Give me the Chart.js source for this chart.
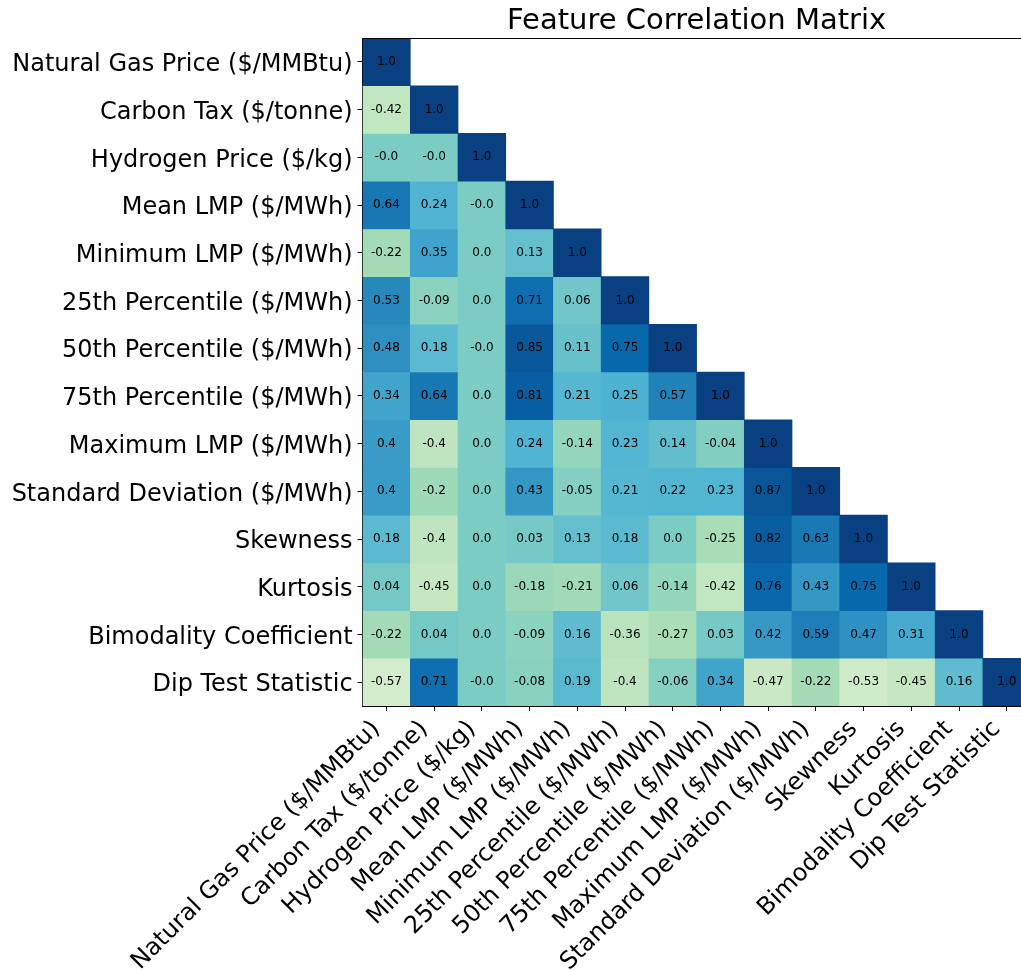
<!DOCTYPE html>
<html><head><meta charset="utf-8">
<script src="https://cdn.jsdelivr.net/npm/chart.js@4.4.1/dist/chart.umd.min.js"></script>
<style>
html,body{margin:0;padding:0;overflow:hidden;background:#fff;width:1021px;height:970px}
#wrap{position:absolute;left:0;top:0;width:1040px;height:970px}
canvas{display:block}
</style>
</head><body><div id="wrap"><canvas id="c" width="1040" height="970"></canvas></div>
<script>
const features = [
  'Natural Gas Price ($/MMBtu)', 'Carbon Tax ($/tonne)', 'Hydrogen Price ($/kg)',
  'Mean LMP ($/MWh)', 'Minimum LMP ($/MWh)', '25th Percentile ($/MWh)',
  '50th Percentile ($/MWh)', '75th Percentile ($/MWh)', 'Maximum LMP ($/MWh)',
  'Standard Deviation ($/MWh)', 'Skewness', 'Kurtosis', 'Bimodality Coefficient',
  'Dip Test Statistic'
];
const rowNaturalGas = [1.0];
const rowCarbonTax = [-0.42, 1.0];
const rowHydrogen = [-0.0, -0.0, 1.0];
const rowMeanLMP = [0.64, 0.24, -0.0, 1.0];
const rowMinLMP = [-0.22, 0.35, 0.0, 0.13, 1.0];
const rowP25 = [0.53, -0.09, 0.0, 0.71, 0.06, 1.0];
const rowP50 = [0.48, 0.18, -0.0, 0.85, 0.11, 0.75, 1.0];
const rowP75 = [0.34, 0.64, 0.0, 0.81, 0.21, 0.25, 0.57, 1.0];
const rowMaxLMP = [0.4, -0.4, 0.0, 0.24, -0.14, 0.23, 0.14, -0.04, 1.0];
const rowStdDev = [0.4, -0.2, 0.0, 0.43, -0.05, 0.21, 0.22, 0.23, 0.87, 1.0];
const rowSkewness = [0.18, -0.4, 0.0, 0.03, 0.13, 0.18, 0.0, -0.25, 0.82, 0.63, 1.0];
const rowKurtosis = [0.04, -0.45, 0.0, -0.18, -0.21, 0.06, -0.14, -0.42, 0.76, 0.43, 0.75, 1.0];
const rowBimodality = [-0.22, 0.04, 0.0, -0.09, 0.16, -0.36, -0.27, 0.03, 0.42, 0.59, 0.47, 0.31, 1.0];
const rowDipTest = [-0.57, 0.71, -0.0, -0.08, 0.19, -0.4, -0.06, 0.34, -0.47, -0.22, -0.53, -0.45, 0.16, 1.0];

const matrixRows = [rowNaturalGas, rowCarbonTax, rowHydrogen, rowMeanLMP, rowMinLMP, rowP25, rowP50,
  rowP75, rowMaxLMP, rowStdDev, rowSkewness, rowKurtosis, rowBimodality, rowDipTest];

const colorMin = -1, colorMax = 1;
const gnbuStops = [[247,252,240],[224,243,219],[204,235,197],[168,221,181],[123,204,196],
  [78,179,211],[43,140,190],[8,104,172],[8,64,129]];
function gnbu(v) {
  let t = (v - colorMin) / (colorMax - colorMin);
  t = Math.max(0, Math.min(1, t));
  const pos = t * (gnbuStops.length - 1);
  const k = Math.min(Math.floor(pos), gnbuStops.length - 2);
  const f = pos - k;
  const a = gnbuStops[k], b = gnbuStops[k + 1];
  const c = a.map((x, i) => Math.round(x + (b[i] - x) * f));
  return `rgb(${c[0]},${c[1]},${c[2]})`;
}
function fmt(v) {
  if (Object.is(v, -0)) return '-0.0';
  if (Number.isInteger(v)) return v.toFixed(1);
  return String(v);
}

Chart.defaults.font.family = "'DejaVu Sans'";
Chart.defaults.color = '#000';

const datasets = matrixRows.map((row, i) => ({
  label: features[i],
  data: features.map((_, j) => j < row.length ? [i - 0.5, i + 0.5] : null),
  backgroundColor: features.map((_, j) => j < row.length ? gnbu(row[j]) : 'rgba(0,0,0,0)'),
  borderWidth: 0,
  grouped: false,
  barPercentage: 1,
  categoryPercentage: 1
}));

const cellText = {
  id: 'cellText',
  afterDatasetsDraw(chart) {
    const ctx = chart.ctx;
    ctx.save();
    ctx.font = "12px 'DejaVu Sans'";
    ctx.fillStyle = '#000';
    ctx.textAlign = 'center';
    ctx.textBaseline = 'middle';
    matrixRows.forEach((row, i) => {
      const meta = chart.getDatasetMeta(i);
      row.forEach((v, j) => {
        const p = meta.data[j].getCenterPoint();
        ctx.fillText(fmt(v), p.x, p.y);
      });
    });
    ctx.restore();
  }
};
const frame = {
  id: 'frame',
  afterDraw(chart) {
    const a = chart.chartArea, ctx = chart.ctx;
    ctx.save();
    ctx.strokeStyle = '#000';
    ctx.lineWidth = 1;
    ctx.beginPath();
    ctx.moveTo(Math.round(a.left) - 0.5, Math.round(a.top) + 0.5);
    ctx.lineTo(Math.round(a.right) + 0.5, Math.round(a.top) + 0.5);
    ctx.lineTo(Math.round(a.right) + 0.5, Math.round(a.bottom));
    ctx.stroke();
    ctx.restore();
  }
};

new Chart(document.getElementById('c'), {
  type: 'bar',
  data: { labels: features, datasets },
  options: {
    responsive: false,
    animation: false,
    events: [],
    layout: { padding: { left: 0, right: 9.4, top: 0, bottom: 0 } },
    plugins: {
      legend: { display: false },
      tooltip: { enabled: false },
      title: {
        display: true,
        text: 'Feature Correlation Matrix',
        fullSize: false,
        color: '#000',
        font: { size: 29, weight: 'normal', lineHeight: 1.1 },
        padding: { top: 5.7, bottom: 0.4 }
      }
    },
    scales: {
      x: {
        type: 'category',
        offset: true,
        grid: { display: true, drawOnChartArea: false, offset: false, tickLength: 5, color: '#000', lineWidth: 1 },
        border: { display: true, color: '#000', width: 1 },
        ticks: { autoSkip: false, minRotation: 45, maxRotation: 45, padding: 4, labelOffset: -10, color: '#000', font: { size: 24 } },
        afterFit(scale) { scale.height = 264; }
      },
      y: {
        type: 'linear',
        min: -0.5,
        max: 13.5,
        reverse: true,
        afterBuildTicks(scale) { scale.ticks = features.map((_, i) => ({ value: i })); },
        grid: { display: true, drawOnChartArea: false, tickLength: 5, color: '#000', lineWidth: 1 },
        border: { display: true, color: '#000', width: 1 },
        ticks: { padding: 5, labelOffset: 3, color: '#000', font: { size: 24 }, callback: (v) => features[v] },
        afterFit(scale) { scale.width = 362.6; }
      }
    }
  },
  plugins: [cellText, frame]
});
</script>
</body></html>
